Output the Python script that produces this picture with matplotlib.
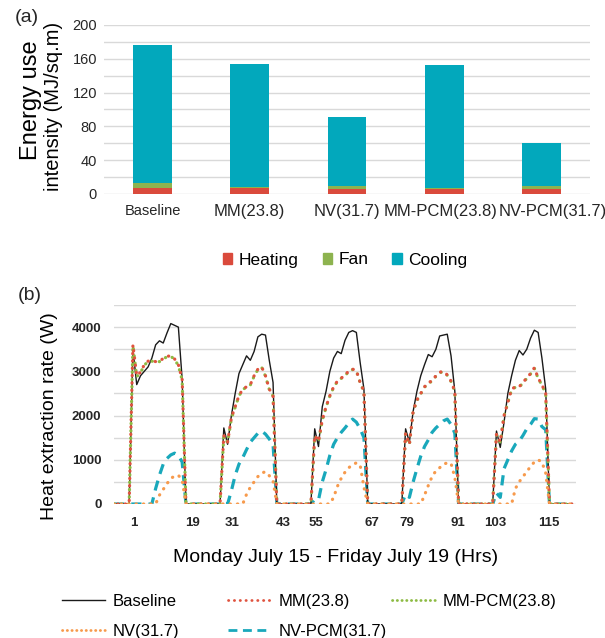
import numpy as np
import matplotlib
matplotlib.use("Agg")
import matplotlib.pyplot as plt
from matplotlib.patches import Patch
from matplotlib.lines import Line2D
from matplotlib.transforms import ScaledTranslation

plt.rcParams['font.family'] = ['Liberation Sans', 'DejaVu Sans']

# ---------------- (a) data ----------------
categories = ["Baseline", "MM(23.8)", "NV(31.7)", "MM-PCM(23.8)", "NV-PCM(31.7)"]
heating = [7.3, 7.3, 5.8, 5.8, 5.8]
fan = [5.4, 0.4, 3.4, 1.5, 3.5]
cooling = [163.8, 146.3, 82.4, 145.0, 50.5]

# ---------------- (b) data ----------------
# hourly values (W) for hours 5..18 of each day; other hours are 0
baseline_days = [
    [3500, 2700, 2900, 3000, 3100, 3300, 3600, 3690, 3640, 3870, 4080, 4040, 4000, 2820],
    [1720, 1350, 2000, 2500, 2950, 3150, 3350, 3250, 3450, 3780, 3840, 3820, 3250, 2750],
    [1700, 1300, 2200, 2550, 3000, 3300, 3450, 3400, 3700, 3880, 3920, 3880, 3200, 2600],
    [1700, 1400, 2100, 2550, 2900, 3150, 3380, 3330, 3500, 3800, 3820, 3840, 3350, 2550],
    [1650, 1280, 1850, 2500, 2900, 3250, 3470, 3370, 3500, 3750, 3930, 3880, 3300, 2600],
]
mm_days = [
    [3600, 2900, 2980, 3150, 3230, 3240, 3220, 3230, 3290, 3340, 3350, 3280, 3150, 2820],
    [1550, 1400, 1950, 2200, 2450, 2600, 2650, 2700, 2900, 3050, 3100, 2900, 2600, 2450],
    [1550, 1420, 1900, 2200, 2450, 2650, 2780, 2850, 2900, 3020, 3050, 3020, 2750, 2550],
    [1600, 1350, 2100, 2350, 2500, 2650, 2750, 2780, 2900, 2980, 3000, 2920, 2780, 2550],
    [1580, 1400, 2000, 2300, 2600, 2650, 2650, 2750, 2850, 2950, 3080, 2850, 2700, 2500],
]
mmpcm_days = [
    [3580, 2880, 2970, 3140, 3220, 3230, 3210, 3220, 3280, 3330, 3340, 3270, 3130, 2800],
    [1530, 1390, 1930, 2190, 2440, 2590, 2640, 2690, 2890, 3040, 3090, 2890, 2590, 2440],
    [1540, 1410, 1890, 2190, 2440, 2640, 2770, 2840, 2890, 3010, 3040, 3010, 2740, 2540],
    [1590, 1340, 2090, 2340, 2490, 2640, 2740, 2770, 2890, 2970, 2990, 2910, 2770, 2540],
    [1570, 1390, 1990, 2290, 2590, 2640, 2640, 2740, 2840, 2940, 3070, 2840, 2690, 2490],
]
nv_days = [
    [0, 0, 0, 0, 0, 0, 0, 200, 330, 460, 580, 630, 650, 540],
    [0, 0, 0, 0, 0, 0, 220, 380, 500, 620, 700, 730, 640, 520],
    [0, 0, 0, 0, 0, 150, 400, 580, 720, 820, 890, 930, 880, 380],
    [0, 0, 0, 0, 0, 200, 420, 620, 750, 820, 900, 930, 920, 600],
    [0, 0, 0, 0, 0, 350, 500, 620, 730, 850, 950, 1000, 950, 700],
]
nvpcm_days = [
    [0, 0, 0, 0, 0, 0, 350, 650, 900, 1030, 1110, 1150, 1100, 950],
    [0, 0, 300, 650, 900, 1050, 1230, 1400, 1500, 1600, 1650, 1580, 1470, 1350],
    [100, 90, 500, 780, 1100, 1350, 1500, 1620, 1720, 1830, 1920, 1850, 1700, 1500],
    [220, 150, 500, 800, 1080, 1300, 1450, 1620, 1720, 1800, 1880, 1920, 1800, 1600],
    [250, 150, 800, 1000, 1200, 1350, 1420, 1550, 1700, 1800, 1930, 1920, 1750, 1680],
]
n_hours = 122
hours = np.arange(n_hours)
tick_labels = ["1", "19", "31", "43", "55", "67", "79", "91", "103", "115"]
tick_hours = [5.3, 20.6, 31.1, 44.6, 53.3, 68.1, 77.3, 90.8, 100.8, 114.8]


def build(days):
    s = np.zeros(n_hours)
    for d, vals in enumerate(days):
        s[5 + 24 * d: 5 + 24 * d + len(vals)] = vals
    return s


baseline = build(baseline_days)
mm = build(mm_days)
mmpcm = build(mmpcm_days)
nv = build(nv_days)
nvpcm = build(nvpcm_days)

# ---------------- figure ----------------
W, H = 605, 638
fig = plt.figure(figsize=(W / 100, H / 100), dpi=100)


def fx(px):
    return px / W


def fy(py):
    return 1 - py / H


grid_c = '#D9D9D9'
txt_c = '#262626'

# ----- (a) -----
ax1 = fig.add_axes([fx(104), fy(194), fx(590) - fx(104), fy(25) - fy(194)])
x = np.arange(len(categories))
bw = 0.4
c_heat, c_fan, c_cool = '#DA4A3C', '#8DB34F', '#02A8BC'
ax1.bar(x, heating, bw, color=c_heat, zorder=3)
ax1.bar(x, fan, bw, bottom=heating, color=c_fan, zorder=3)
bot2 = np.array(heating) + np.array(fan)
ax1.bar(x, cooling, bw, bottom=bot2, color=c_cool, zorder=3)
ax1.set_xlim(-0.5, len(categories) - 0.5)
ax1.set_ylim(0, 200)
ax1.set_yticks(np.arange(0, 201, 40))
ax1.set_yticks(np.arange(0, 201, 20), minor=True)
ax1.grid(axis='y', which='both', color=grid_c, lw=1.0, zorder=0)
for s in ax1.spines.values():
    s.set_visible(False)
ax1.tick_params(axis='both', which='both', length=0)
ax1.tick_params(axis='y', labelsize=10.5, labelcolor=txt_c, pad=5)
ax1.set_xticks(x)
ax1.set_xticklabels(categories, fontsize=12, color=txt_c)
ax1.tick_params(axis='x', pad=7)
xl = ax1.get_xticklabels()
xl[0].set_fontsize(10.5)
xl[3].set_transform(xl[3].get_transform() + ScaledTranslation(-0.04, 0, fig.dpi_scale_trans))
xl[4].set_transform(xl[4].get_transform() + ScaledTranslation(0.11, 0, fig.dpi_scale_trans))

fig.text(fx(27), fy(18), "(a)", fontsize=14, ha='center', va='center', color=txt_c)
fig.text(fx(31), fy(100), "Energy use", fontsize=17, rotation=90,
         ha='center', va='center', color='black')
fig.text(fx(54), fy(106), "intensity (MJ/sq.m)", fontsize=14.5, rotation=90,
         ha='center', va='center', color='black')

h_leg = [Patch(color=c_heat), Patch(color=c_fan), Patch(color=c_cool)]
fig.legend(h_leg, ["Heating", "Fan", "Cooling"], loc='center', ncol=3,
           bbox_to_anchor=(fx(345), fy(260)), frameon=False, fontsize=12.5,
           handlelength=0.55, handleheight=0.55, handletextpad=0.35,
           columnspacing=1.4)

# ----- (b) -----
ax2 = fig.add_axes([fx(114), fy(504), fx(576) - fx(114), fy(305) - fy(504)])
c_mm, c_mmpcm, c_nv, c_nvpcm = '#E0533F', '#8DBB43', '#F79A4C', '#19A8BB'
dot = (0, (0.1, 2.2))
ax2.plot(hours, nvpcm, color=c_nvpcm, lw=2.3, ls=(0, (3.2, 2.2)), zorder=2)
ax2.plot(hours, baseline, color='#1A1A1A', lw=1.0, zorder=3)
ax2.plot(hours, mmpcm, color=c_mmpcm, lw=2.3, ls=dot, dash_capstyle='round', zorder=4)
ax2.plot(hours, mm, color=c_mm, lw=2.3, ls=(1.1, (0.1, 2.2)), dash_capstyle='round', zorder=5)
ax2.plot(hours, nv, color=c_nv, lw=2.3, ls=dot, dash_capstyle='round', zorder=6)
ax2.set_xlim(0, n_hours)
ax2.set_ylim(0, 4500)
ax2.set_yticks(np.arange(0, 4001, 1000))
ax2.set_yticks(np.arange(0, 4501, 500), minor=True)
ax2.grid(axis='y', which='both', color=grid_c, lw=1.0, zorder=0)
for s in ax2.spines.values():
    s.set_visible(False)
ax2.tick_params(axis='both', which='both', length=0)
ax2.tick_params(axis='y', labelsize=9.5, labelcolor=txt_c, pad=9)
for t in ax2.get_yticklabels():
    t.set_fontweight('bold')
ax2.set_xticks(tick_hours)
ax2.set_xticklabels(tick_labels, fontsize=9.5, color=txt_c, fontweight='bold')
ax2.tick_params(axis='x', pad=9)

fig.text(fx(30), fy(296), "(b)", fontsize=14, ha='center', va='center', color=txt_c)
fig.text(fx(50), fy(416), "Heat extraction rate (W)", fontsize=14, rotation=90,
         ha='center', va='center', color='black')
fig.text(fx(336), fy(557), "Monday July 15 - Friday July 19 (Hrs)", fontsize=14,
         ha='center', va='center', color='black')

h_base = Line2D([], [], color='#1A1A1A', lw=1.0)
h_mm = Line2D([], [], color=c_mm, lw=2.0, ls=(0, (0.1, 2.0)), dash_capstyle='round')
h_mmpcm = Line2D([], [], color=c_mmpcm, lw=2.0, ls=(0, (0.1, 1.6)), dash_capstyle='round')
h_nv = Line2D([], [], color=c_nv, lw=2.0, ls=(0, (0.1, 1.6)), dash_capstyle='round')
h_nvpcm = Line2D([], [], color=c_nvpcm, lw=2.0, ls=(0, (3.2, 2.0)))
leg_kw = dict(loc='upper left', frameon=False, fontsize=12, handlelength=2.6,
              handletextpad=0.45, labelspacing=0.9, borderaxespad=0, borderpad=0)
fig.legend([h_base, h_nv], ["Baseline", "NV(31.7)"], bbox_to_anchor=(fx(62), fy(594)), **leg_kw)
fig.legend([h_mm, h_nvpcm], ["MM(23.8)", "NV-PCM(31.7)"], bbox_to_anchor=(fx(228), fy(594)), **leg_kw)
fig.legend([h_mmpcm], ["MM-PCM(23.8)"], bbox_to_anchor=(fx(392), fy(594)), **leg_kw)

fig.savefig("out.png", dpi=100, facecolor='white')
